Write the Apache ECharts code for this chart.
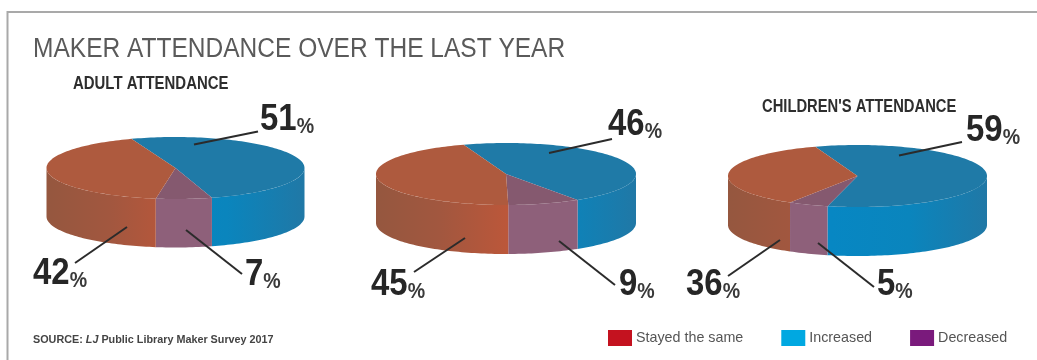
<!DOCTYPE html>
<html>
<head>
<meta charset="utf-8">
<style>html,body{margin:0;padding:0;background:#fff}#chart{width:1037px;height:360px}</style>
<script src="https://cdn.jsdelivr.net/npm/echarts@6/dist/echarts.min.js"></script>
</head>
<body>
<div id="chart"></div>
<script>
// Survey shares, in percent, one entry per pie (left to right)
const categories = ['Stayed the same', 'Increased', 'Decreased'];
const increased = [51, 46, 59];
const decreased = [7, 9, 5];
const stayed = [42, 45, 36];

// Pie geometry: centre of the top face, radii, wall depth and first slice angle
const pies = [
  { cx: 175.5, cy: 168, rx: 129, ry: 31, depth: 48.5, start: -20 },
  { cx: 506, cy: 174, rx: 130, ry: 31, depth: 49, start: -19 },
  { cx: 857.5, cy: 176, rx: 129.5, ry: 31, depth: 49, start: -19 }
];

// Callout per slice: line from label to slice, and where the label's baseline starts
const callouts = {
  Increased: [
    { line: [258, 131.5, 194, 144.5], at: [260, 132] },
    { line: [612, 139, 549, 153], at: [608, 137] },
    { line: [962, 142, 899, 155.5], at: [966, 143] }
  ],
  Decreased: [
    { line: [242, 274, 186, 230], at: [245, 287] },
    { line: [615, 285, 559, 241], at: [619, 297] },
    { line: [874, 287, 818, 243], at: [877, 297] }
  ],
  'Stayed the same': [
    { line: [75, 263, 127, 227], at: [33, 286] },
    { line: [414, 272, 465, 238], at: [371, 297] },
    { line: [728, 276, 780, 240], at: [686, 297] }
  ]
};

const SANS = '"Liberation Sans",sans-serif';
const STEP = 1.5;

// Point on a pie's ellipse; angle in degrees, clockwise from the top
function rim(p, deg, drop) {
  const a = deg * Math.PI / 180;
  return [p.cx + p.rx * Math.sin(a), p.cy - p.ry * Math.cos(a) + (drop || 0)];
}

function arc(p, from, to, drop) {
  const pts = [];
  const n = Math.max(2, Math.ceil((to - from) / STEP));
  for (let i = 0; i <= n; i++) pts.push(rim(p, from + (to - from) * i / n, drop));
  return pts;
}

function wallFill(p, stops, x0, x1) {
  return {
    type: 'linear', global: true,
    x: p.cx + x0 * p.rx, y: 0, x2: p.cx + x1 * p.rx, y2: 0,
    colorStops: stops.map((c, i) => ({ offset: i / (stops.length - 1), color: c }))
  };
}

const looks = {
  Increased: { top: '#1f7aa7', wall: ['#0787c3', '#0a85bd', '#2078a6'], range: [-0.2, 1], swatch: '#00a8e1' },
  Decreased: { top: '#85596f', wall: ['#8e607a', '#8e607a'], range: [-1, 1], swatch: '#7a1a7c' },
  'Stayed the same': { top: '#ae5a3e', wall: ['#95573f', '#a2573f', '#bb573a'], range: [-1, 0], swatch: '#c4121f' }
};

// Slices run clockwise in this order from each pie's start angle
const sliceOrder = [
  { name: 'Increased', values: increased },
  { name: 'Decreased', values: decreased },
  { name: 'Stayed the same', values: stayed }
];

function sweepBefore(order, pieIndex) {
  let sum = 0;
  for (let i = 0; i < order; i++) sum += sliceOrder[i].values[pieIndex];
  return sum * 3.6;
}

function sliceRenderer(order) {
  const name = sliceOrder[order].name;
  const look = looks[name];
  return function (params, api) {
    const idx = api.value(0);
    const value = api.value(1);
    const p = pies[idx];
    const from = p.start + sweepBefore(order, idx);
    const to = from + value * 3.6;
    const children = [];

    // Visible wall: the part of the slice lying on the front half of the rim
    const wallFrom = Math.max(from, 90);
    const wallTo = Math.min(to, 270);
    if (wallTo > wallFrom) {
      const upper = arc(p, wallFrom, wallTo, 0);
      const lower = arc(p, wallFrom, wallTo, p.depth).reverse();
      children.push({
        type: 'polygon', z2: 1,
        shape: { points: upper.concat(lower) },
        style: { fill: wallFill(p, look.wall, look.range[0], look.range[1]) }
      });
    }

    children.push({
      type: 'polygon', z2: 2,
      shape: { points: [[p.cx, p.cy]].concat(arc(p, from, to, 0)) },
      style: { fill: look.top }
    });

    const c = callouts[name][idx];
    children.push({
      type: 'line', z2: 5,
      shape: { x1: c.line[0], y1: c.line[1], x2: c.line[2], y2: c.line[3] },
      style: { stroke: '#2b2b2b', lineWidth: 2 }
    });
    children.push({
      type: 'text', z2: 6,
      x: c.at[0], y: c.at[1] + 6, scaleX: 0.89,
      style: {
        text: '{n|' + value + '}{p|%}',
        verticalAlign: 'bottom',
        rich: {
          n: { font: 'bold 37px ' + SANS, fill: '#262626', verticalAlign: 'bottom', lineHeight: 40 },
          p: { font: 'bold 22px ' + SANS, fill: '#3a3a3a', verticalAlign: 'bottom', lineHeight: 36 }
        }
      }
    });
    return { type: 'group', children };
  };
}

// Headline text placed by baseline, squeezed horizontally to a condensed cut
function heading(text, x, baseline, size, weight, color, scaleX) {
  return {
    type: 'text', silent: true, x, y: baseline - size * 0.85, scaleX,
    style: { text, font: weight + ' ' + size + 'px ' + SANS, fill: color, verticalAlign: 'top' }
  };
}

const option = {
  animation: false,
  backgroundColor: '#ffffff',
  legend: {
    left: 608, top: 330, itemWidth: 24, itemHeight: 16, itemGap: 38,
    icon: 'rect', selectedMode: false, padding: 0,
    textStyle: { fontFamily: SANS, fontSize: 14.3, color: '#555555', padding: [0, 0, 0, -1] },
    data: categories.map(name => ({ name, itemStyle: { color: looks[name].swatch } }))
  },
  graphic: [
    {
      type: 'polyline', silent: true,
      shape: { points: [[1037, 12], [7.5, 12], [7.5, 360]] },
      style: { stroke: '#a9a9a9', lineWidth: 2, fill: null }
    },
    heading('MAKER ATTENDANCE OVER THE LAST YEAR', 33, 59, 27, 'normal', '#5a5a5a', 0.908),
    heading('ADULT ATTENDANCE', 73, 90, 18, 'bold', '#2e2e2e', 0.83),
    heading("CHILDREN'S ATTENDANCE", 762, 113, 18, 'bold', '#2e2e2e', 0.82),
    {
      type: 'text', silent: true, x: 33, y: 346,
      style: {
        text: '{b|SOURCE: }{i|LJ }{b|Public Library Maker Survey 2017}',
        verticalAlign: 'bottom',
        rich: {
          b: { font: 'bold 10.8px ' + SANS, fill: '#444444' },
          i: { font: 'italic bold 10.8px ' + SANS, fill: '#444444' }
        }
      }
    }
  ],
  series: sliceOrder.map((s, order) => ({
    type: 'custom',
    name: s.name,
    coordinateSystem: 'none',
    itemStyle: { color: looks[s.name].swatch },
    renderItem: sliceRenderer(order),
    data: s.values.map((v, i) => [i, v])
  }))
};

echarts.init(document.getElementById('chart'), null, { renderer: 'canvas' }).setOption(option);
</script>
</body>
</html>
